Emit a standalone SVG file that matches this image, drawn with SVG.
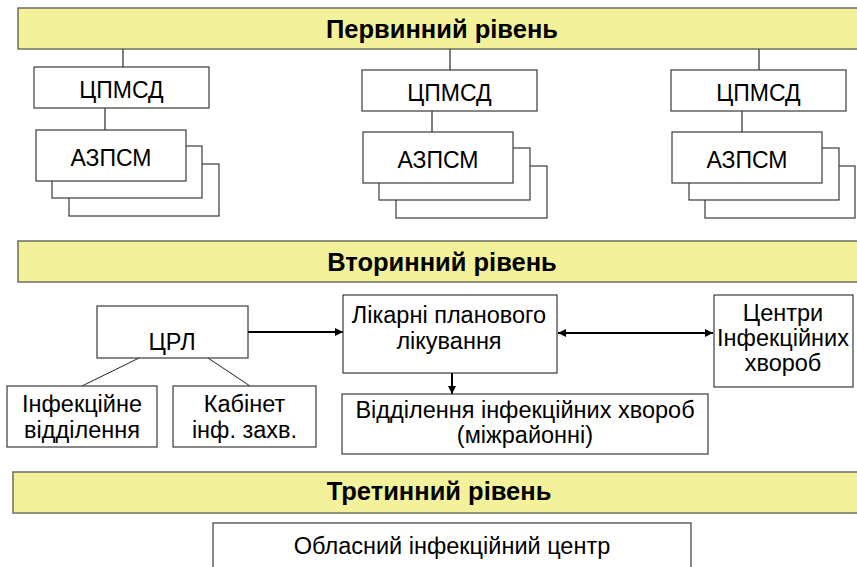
<svg xmlns="http://www.w3.org/2000/svg" width="857" height="567" viewBox="0 0 857 567">
<defs>
<style>
.banner{fill:#f3f29b;stroke:#6e6e5e;stroke-width:1.5}
.box{fill:#ffffff;stroke:#3a3a3a;stroke-width:1.2}
.title{font-family:"Liberation Sans",Arial,sans-serif;font-weight:bold;font-size:25.5px;fill:#000;text-anchor:middle}
.t{font-family:"Liberation Sans",Arial,sans-serif;font-size:23px;fill:#000;text-anchor:middle}
.t2{font-family:"Liberation Sans",Arial,sans-serif;font-size:23.5px;fill:#000;text-anchor:middle}
.gl{stroke:#555;stroke-width:1.5;fill:none}
.tl{stroke:#222;stroke-width:1;fill:none}
.ar{stroke:#000;stroke-width:2;fill:none}
</style>
<marker id="ah" viewBox="0 0 10 10" refX="10" refY="5" markerWidth="9" markerHeight="8" markerUnits="userSpaceOnUse" orient="auto-start-reverse">
<path d="M0,0 L10,5 L0,10 z" fill="#000"/>
</marker>
</defs>

<g id="banner-primary">
<rect class="banner" x="18" y="8" width="850" height="41"/>
<text class="title" x="442" y="38">Первинний рівень</text>
</g>
<g id="banner-secondary">
<rect class="banner" x="18" y="241" width="850" height="41"/>
<text class="title" x="442" y="271">Вторинний рівень</text>
</g>
<g id="banner-tertiary">
<rect class="banner" x="13" y="472" width="855" height="41"/>
<text class="title" x="439" y="500">Третинний рівень</text>
</g>

<g id="connectors">
<line class="gl" x1="123" y1="49" x2="123" y2="67"/>
<line class="gl" x1="105" y1="108" x2="105" y2="130"/>
<line class="gl" x1="450" y1="49" x2="450" y2="70"/>
<line class="gl" x1="432" y1="111" x2="432" y2="132"/>
<line class="gl" x1="759" y1="49" x2="759" y2="70"/>
<line class="gl" x1="742" y1="111" x2="742" y2="132"/>
<line class="tl" x1="139" y1="358" x2="82" y2="386"/>
<line class="tl" x1="208" y1="358" x2="250" y2="386"/>
<line class="ar" x1="248" y1="332" x2="343" y2="332" marker-end="url(#ah)"/>
<line class="ar" x1="558" y1="333" x2="713" y2="333" marker-start="url(#ah)" marker-end="url(#ah)"/>
<line class="ar" x1="452" y1="373" x2="452" y2="394" marker-end="url(#ah)"/>
</g>

<g id="cpmsd-1">
<rect class="box" x="34" y="67" width="175" height="41"/>
<text class="t" x="121.5" y="98">ЦПМСД</text>
</g>
<g id="azpsm-1">
<rect class="box" x="69" y="164" width="150" height="52"/>
<rect class="box" x="52" y="146" width="150" height="52"/>
<rect class="box" x="36" y="130" width="150" height="51"/>
<text class="t" x="111" y="166">АЗПСМ</text>
</g>

<g id="cpmsd-2">
<rect class="box" x="362" y="70" width="175" height="41"/>
<text class="t" x="449.5" y="101">ЦПМСД</text>
</g>
<g id="azpsm-2">
<rect class="box" x="396" y="166" width="151" height="52"/>
<rect class="box" x="379" y="148" width="151" height="52"/>
<rect class="box" x="363" y="132" width="150" height="51"/>
<text class="t" x="438" y="168">АЗПСМ</text>
</g>

<g id="cpmsd-3">
<rect class="box" x="671" y="70" width="175" height="41"/>
<text class="t" x="758.5" y="101">ЦПМСД</text>
</g>
<g id="azpsm-3">
<rect class="box" x="705" y="166" width="150" height="52"/>
<rect class="box" x="689" y="148" width="150" height="52"/>
<rect class="box" x="672" y="132" width="150" height="51"/>
<text class="t" x="747" y="168">АЗПСМ</text>
</g>

<g id="crl">
<rect class="box" x="97" y="306" width="151" height="52"/>
<text class="t2" x="172" y="350">ЦРЛ</text>
</g>
<g id="inf-viddilennia">
<rect class="box" x="7" y="386" width="150" height="61"/>
<text class="t2" x="82" y="412">Інфекційне</text>
<text class="t2" x="82" y="438">відділення</text>
</g>
<g id="kabinet">
<rect class="box" x="173" y="386" width="143" height="61"/>
<text class="t2" x="244.5" y="412">Кабінет</text>
<text class="t2" x="244.5" y="438">інф. захв.</text>
</g>
<g id="likarni">
<rect class="box" x="343" y="295" width="214" height="78"/>
<text class="t2" x="449" y="323">Лікарні планового</text>
<text class="t2" x="449" y="349">лікування</text>
</g>
<g id="tsentry">
<rect class="box" x="714" y="295" width="139" height="92"/>
<text class="t2" x="783" y="321">Центри</text>
<text class="t2" x="783" y="346">Інфекційних</text>
<text class="t2" x="783" y="371">хвороб</text>
</g>
<g id="viddilennia-mizhraionni">
<rect class="box" x="342" y="394" width="366" height="60"/>
<text class="t2" x="525" y="418">Відділення інфекційних хвороб</text>
<text class="t2" x="525" y="443">(міжрайонні)</text>
</g>
<g id="oblasnyi">
<rect class="box" x="213" y="523" width="478" height="60"/>
<text class="t2" x="452" y="554">Обласний інфекційний центр</text>
</g>
</svg>
